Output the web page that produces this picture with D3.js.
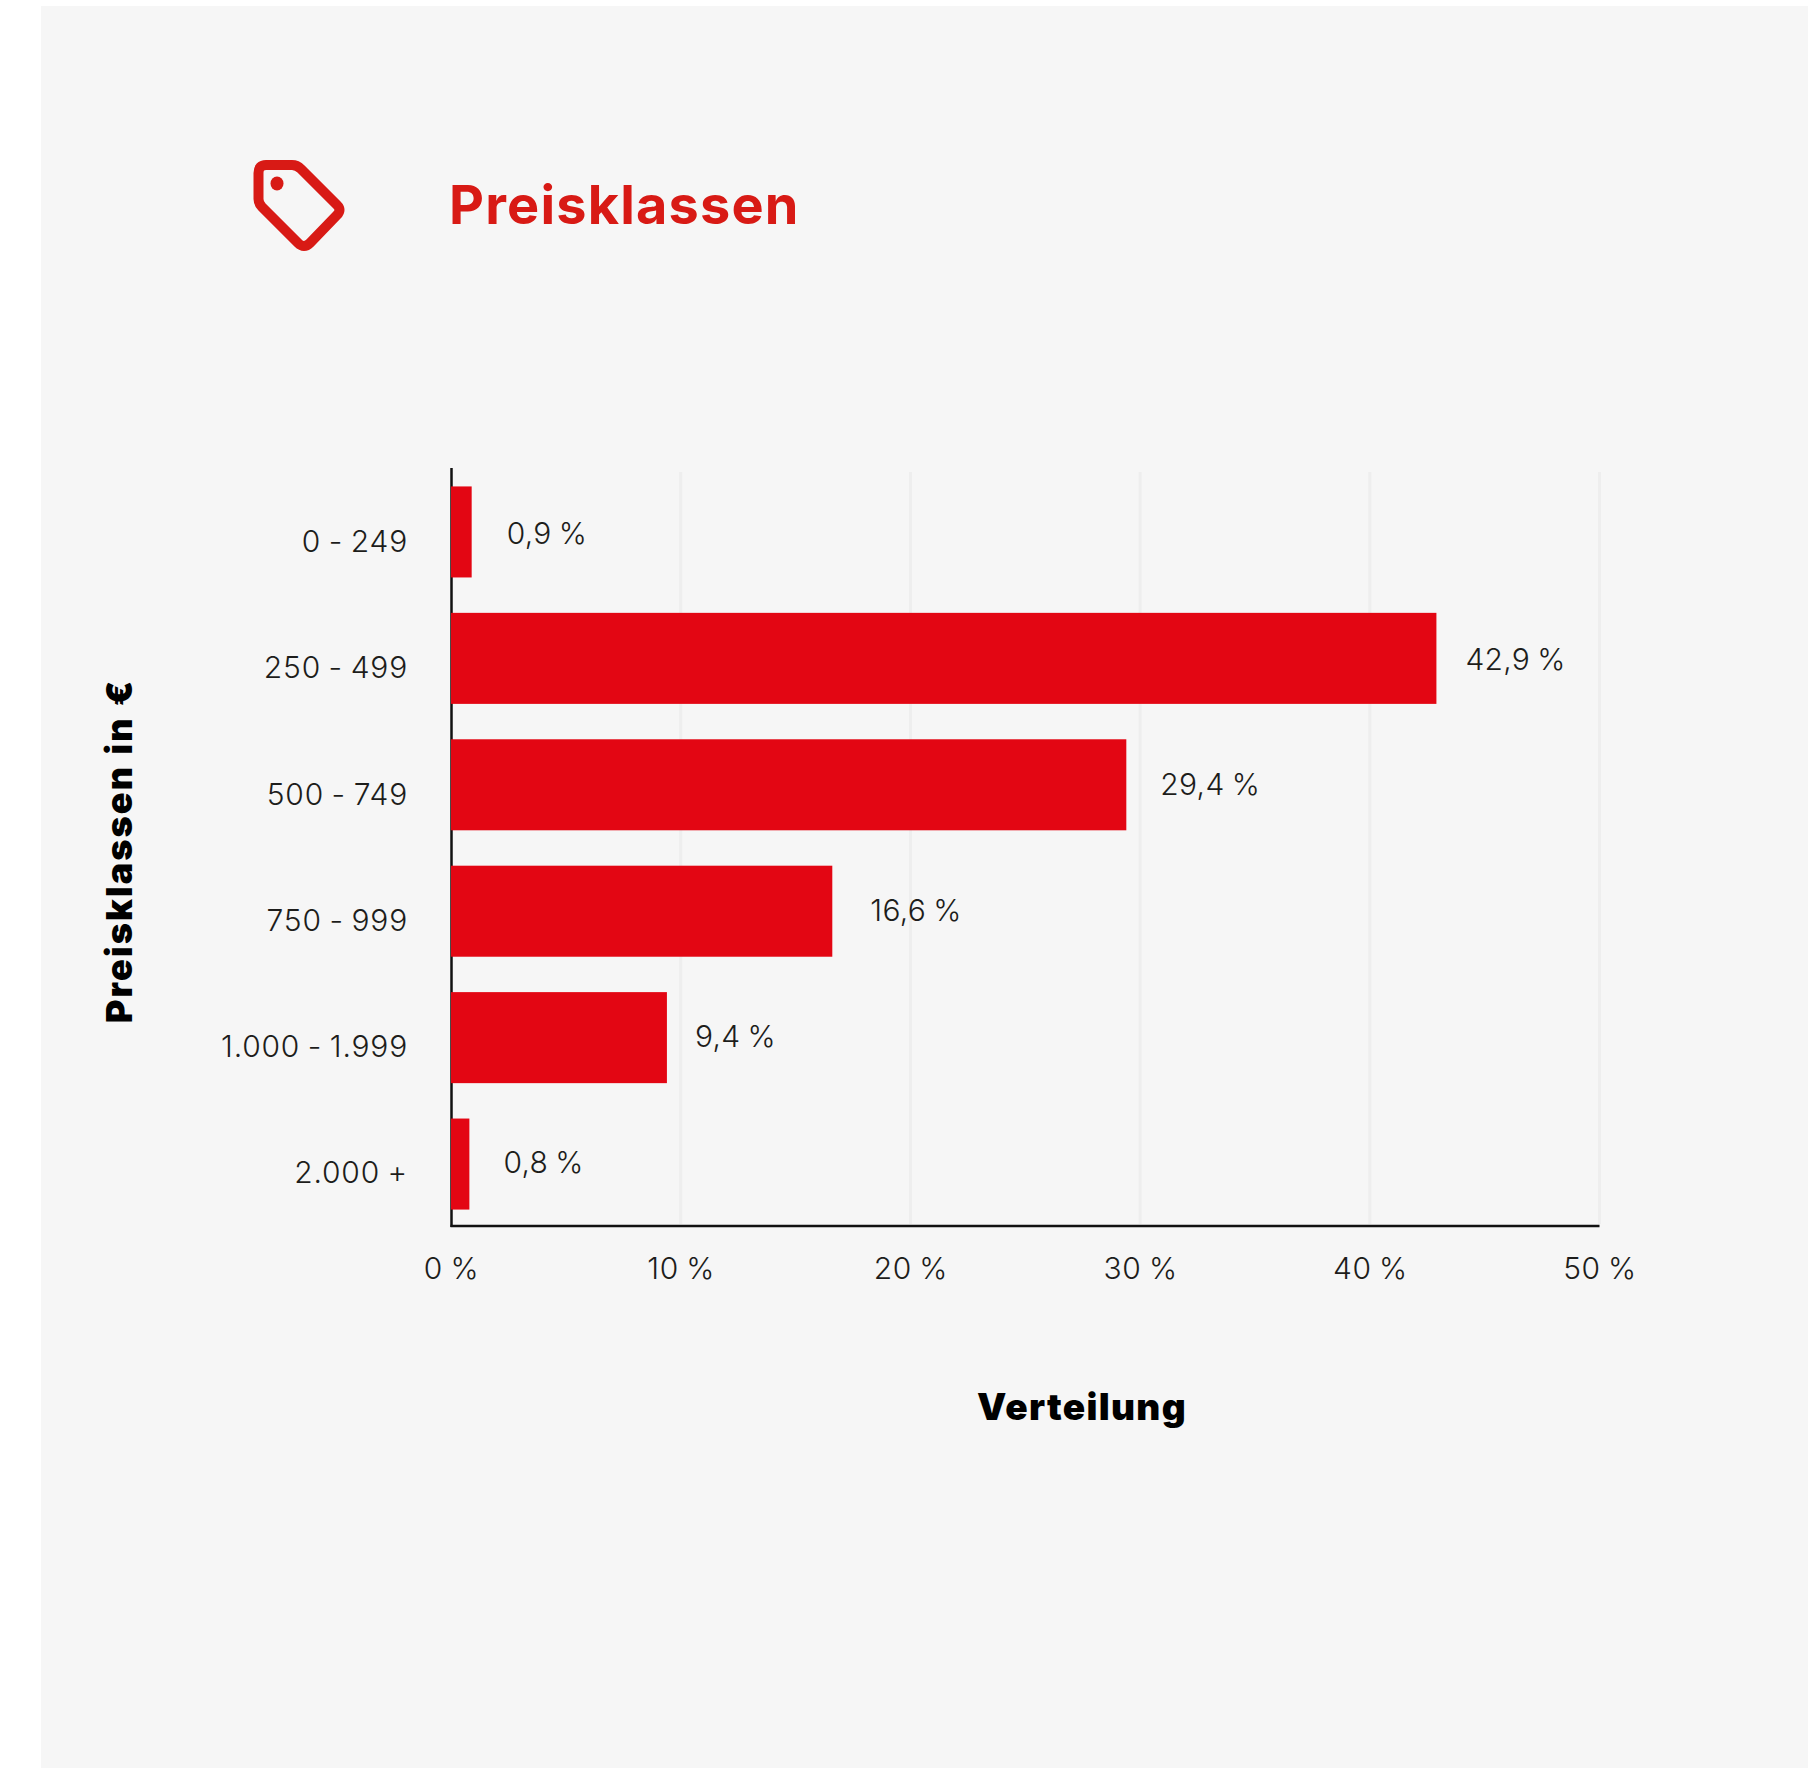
<!DOCTYPE html>
<html lang="de">
<head>
<meta charset="utf-8">
<title>Preisklassen</title>
<script src="https://cdn.jsdelivr.net/npm/d3@7/dist/d3.min.js"></script>
<style>
  html, body { margin: 0; padding: 0; background: #fff; }
  svg { display: block; }
  text { font-family: Inter, "Noto Sans", sans-serif; }
</style>
</head>
<body>
<div id="chart"></div>
<script>
// Preisklassen und ihr Anteil an der Verteilung (in Prozent)
const categories = ["0 - 249", "250 - 499", "500 - 749", "750 - 999", "1.000 - 1.999", "2.000 +"];
const shares = [0.9, 42.9, 29.4, 16.6, 9.4, 0.8];
const xTicks = [0, 10, 20, 30, 40, 50];

// Abstand der Wertebeschriftung vom Balkenende
const labelGaps = [35, 29, 34, 38, 28, 34];

const width = 1808, height = 1768;
const fmtPct = v => String(v).replace(".", ",") + " %";

const svg = d3.select("#chart").append("svg")
  .attr("width", width).attr("height", height);

svg.append("rect")
  .attr("x", 41).attr("y", 6)
  .attr("width", width - 41).attr("height", height - 6)
  .attr("fill", "#f6f6f6");

const x = d3.scaleLinear().domain([0, 50]).range([451, 1599.5]);
const y = d3.scaleBand().domain(categories)
  .range([470, 1226]).paddingInner(0.28).paddingOuter(0.13);

// Grundlinien der Beschriftungen laufen etwas enger als die Balken
const tickBaseline = d3.scalePoint().domain(categories).range([551.7, 1182.5]);
const valueBaseline = d3.scalePoint().domain(categories).range([544, 1172.7]);

const labelStyle = sel => sel
  .attr("font-size", 30).attr("font-weight", 300)
  .attr("fill", "#1d1d1b")
  .attr("letter-spacing", 0.3).attr("word-spacing", -1.6);

// Gitterlinien
svg.append("g").selectAll("line").data(xTicks.slice(1)).join("line")
  .attr("x1", d => x(d)).attr("x2", d => x(d))
  .attr("y1", 472).attr("y2", 1224)
  .attr("stroke", "#eeeeee").attr("stroke-width", 3);

// Achsen ohne Teilstriche, Beschriftung über d3-axis
const xAxis = svg.append("g").attr("transform", "translate(0,1226)")
  .call(d3.axisBottom(x).tickValues(xTicks).tickSize(0).tickFormat(d => d + " %"));
xAxis.select(".domain").remove();
xAxis.selectAll("text").attr("y", 52.5).attr("dy", 0).call(labelStyle).attr("letter-spacing", 0.6);

const yAxis = svg.append("g").attr("transform", "translate(408,0)")
  .call(d3.axisLeft(tickBaseline).tickSize(0));
yAxis.select(".domain").remove();
yAxis.selectAll("text").attr("x", 0).attr("dy", 0).call(labelStyle).attr("letter-spacing", 0.8);

svg.append("line").attr("x1", 451.5).attr("x2", 451.5).attr("y1", 468).attr("y2", 1227)
  .attr("stroke", "#111").attr("stroke-width", 2.5);
svg.append("line").attr("x1", 450.5).attr("x2", 1599.5).attr("y1", 1226).attr("y2", 1226)
  .attr("stroke", "#111").attr("stroke-width", 2.5);

// Balken
svg.append("g").selectAll("rect").data(shares).join("rect")
  .attr("x", x(0))
  .attr("y", (d, i) => y(categories[i]))
  .attr("width", d => x(d) - x(0))
  .attr("height", y.bandwidth())
  .attr("fill", "#e30613");

// Wertebeschriftung
svg.append("g").selectAll("text").data(shares).join("text")
  .attr("x", (d, i) => x(d) + labelGaps[i])
  .attr("y", (d, i) => valueBaseline(categories[i]))
  .call(labelStyle)
  .text(fmtPct);

// Kopfzeile mit Preisschild-Symbol
const titleColor = "#d81a15";
const icon = svg.append("g");
icon.append("path")
  .attr("d", "M258.5,173 Q258.5,165 266,165 H292 Q297,165 301,169 L337,205 Q342,210 337,215 L310,243 Q304,249 298,243 L262,207 Q258.5,203.5 258.5,199 Z")
  .attr("fill", "none").attr("stroke", titleColor).attr("stroke-width", 10).attr("stroke-linejoin", "round");
icon.append("ellipse").attr("cx", 277).attr("cy", 183.5).attr("rx", 6.5).attr("ry", 7).attr("fill", titleColor);

svg.append("text")
  .attr("x", 449).attr("y", 224)
  .attr("font-size", 54).attr("font-weight", 700)
  .attr("letter-spacing", 1.2)
  .attr("fill", titleColor)
  .text("Preisklassen");

// Achsentitel
svg.append("text")
  .attr("x", 1082).attr("y", 1420)
  .attr("text-anchor", "middle")
  .attr("font-size", 37).attr("font-weight", 900)
  .attr("letter-spacing", 1.3)
  .attr("fill", "#000")
  .text("Verteilung");

svg.append("text")
  .attr("transform", "translate(132,851) rotate(-90)")
  .attr("text-anchor", "middle")
  .attr("font-size", 36).attr("font-weight", 900)
  .attr("letter-spacing", 2.1).attr("word-spacing", 1)
  .attr("fill", "#000")
  .text("Preisklassen in €");
</script>
</body>
</html>
